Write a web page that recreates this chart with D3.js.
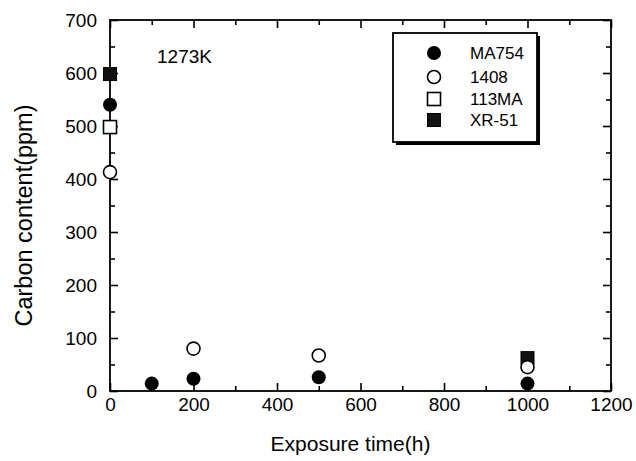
<!DOCTYPE html>
<html>
<head>
<meta charset="utf-8">
<script src="https://cdn.jsdelivr.net/npm/d3@7"></script>
<style>
  html, body { margin: 0; padding: 0; background: #fff; }
  svg { display: block; }
  text { font-family: "Liberation Sans", Arial, Helvetica, sans-serif; fill: #000; }
</style>
</head>
<body>
<svg id="chart" width="636" height="461"></svg>
<script>
// Carbon content of oxide-dispersion-strengthened alloys vs. exposure time at 1273K
const seriesNames = ["MA754", "1408", "113MA", "XR-51"];
const ma754Hours = [0, 100, 200, 500, 1000];
const ma754Ppm   = [540, 14, 23, 26, 14];
const a1408Hours = [0, 200, 500, 1000];
const a1408Ppm   = [413, 80, 67, 45];
const a113maHours = [0];
const a113maPpm   = [498];
const xr51Hours = [0, 1000];
const xr51Ppm   = [598, 62];
const xTicks = [0, 200, 400, 600, 800, 1000, 1200];
const yTicks = [0, 100, 200, 300, 400, 500, 600, 700];
const xMinor = [100, 300, 500, 700, 900, 1100];
const yMinor = [50, 150, 250, 350, 450, 550, 650];

const svg = d3.select("#chart");
const plotL = 110, plotR = 611, plotT = 20, plotB = 391;
const x = d3.scaleLinear().domain([0, 1200]).range([plotL, plotR]);
const y = d3.scaleLinear().domain([0, 700]).range([plotB, plotT]);

// frame
svg.append("rect")
  .attr("x", plotL).attr("y", plotT)
  .attr("width", plotR - plotL).attr("height", plotB - plotT)
  .attr("fill", "none").attr("stroke", "#000").attr("stroke-width", 1.8);

function styleAxis(g) {
  g.select(".domain").remove();
  g.selectAll(".tick line").attr("stroke", "#000").attr("stroke-width", 1.6);
}

// major ticks with labels
svg.append("g").attr("transform", `translate(0,${plotB})`)
  .call(d3.axisBottom(x).tickValues(xTicks).tickSize(-8).tickPadding(7).tickFormat(d3.format("d")))
  .call(styleAxis)
  .selectAll("text").attr("font-size", 19);
svg.append("g").attr("transform", `translate(${plotL},0)`)
  .call(d3.axisLeft(y).tickValues(yTicks).tickSize(-8).tickPadding(13).tickFormat(d3.format("d")))
  .call(styleAxis)
  .selectAll("text").attr("font-size", 19);
// top and right ticks
svg.append("g").attr("transform", `translate(0,${plotT})`)
  .call(d3.axisTop(x).tickValues(xTicks).tickSize(-8).tickFormat(""))
  .call(styleAxis);
svg.append("g").attr("transform", `translate(${plotR},0)`)
  .call(d3.axisRight(y).tickValues(yTicks).tickSize(-8).tickFormat(""))
  .call(styleAxis);
// minor ticks
svg.append("g").attr("transform", `translate(0,${plotB})`)
  .call(d3.axisBottom(x).tickValues(xMinor).tickSize(-5).tickFormat("")).call(styleAxis);
svg.append("g").attr("transform", `translate(0,${plotT})`)
  .call(d3.axisTop(x).tickValues(xMinor).tickSize(-5).tickFormat("")).call(styleAxis);
svg.append("g").attr("transform", `translate(${plotL},0)`)
  .call(d3.axisLeft(y).tickValues(yMinor).tickSize(-5).tickFormat("")).call(styleAxis);
svg.append("g").attr("transform", `translate(${plotR},0)`)
  .call(d3.axisRight(y).tickValues(yMinor).tickSize(-5).tickFormat("")).call(styleAxis);

// axis titles
svg.append("text")
  .attr("x", (plotL + plotR) / 2 - 10).attr("y", 451)
  .attr("text-anchor", "middle").attr("font-size", 21)
  .text("Exposure time(h)");
svg.append("text")
  .attr("transform", `translate(32,${(plotT + plotB) / 2 + 10}) rotate(-90)`)
  .attr("text-anchor", "middle").attr("font-size", 23.5)
  .text("Carbon content(ppm)");

svg.append("text").attr("x", 157).attr("y", 63).attr("font-size", 19).text("1273K");

// marker drawing
const R = 7, S = 13;
function drawMarker(g, kind, cx, cy) {
  if (kind === "MA754") {
    g.append("circle").attr("cx", cx).attr("cy", cy).attr("r", R).attr("fill", "#000");
  } else if (kind === "1408") {
    g.append("circle").attr("cx", cx).attr("cy", cy).attr("r", R - 0.5)
      .attr("fill", "#fff").attr("stroke", "#000").attr("stroke-width", 1.6);
  } else if (kind === "113MA") {
    g.append("rect").attr("x", cx - S / 2).attr("y", cy - S / 2).attr("width", S).attr("height", S)
      .attr("fill", "#fff").attr("stroke", "#000").attr("stroke-width", 1.6);
  } else {
    g.append("rect").attr("x", cx - S / 2).attr("y", cy - S / 2).attr("width", S).attr("height", S)
      .attr("fill", "#111").attr("stroke", "#000").attr("stroke-width", 1);
  }
}

const marks = svg.append("g");
const groups = [
  ["XR-51", xr51Hours, xr51Ppm],
  ["MA754", ma754Hours, ma754Ppm],
  ["113MA", a113maHours, a113maPpm],
  ["1408", a1408Hours, a1408Ppm]
];
groups.forEach(([name, hs, vs]) => {
  hs.forEach((h, i) => drawMarker(marks, name, x(h), y(vs[i])));
});

// legend box with drop shadow
const lg = svg.append("g");
lg.append("rect").attr("x", 396).attr("y", 36).attr("width", 144).attr("height", 109).attr("fill", "#000");
lg.append("rect").attr("x", 393).attr("y", 33).attr("width", 144).attr("height", 109)
  .attr("fill", "#fff").attr("stroke", "#000").attr("stroke-width", 1.8);
const rowY = [53, 77, 99, 120];
seriesNames.forEach((name, i) => {
  drawMarker(lg, name, 434, rowY[i]);
  lg.append("text").attr("x", 470).attr("y", rowY[i] + 6).attr("font-size", 17).text(name);
});
</script>
</body>
</html>
